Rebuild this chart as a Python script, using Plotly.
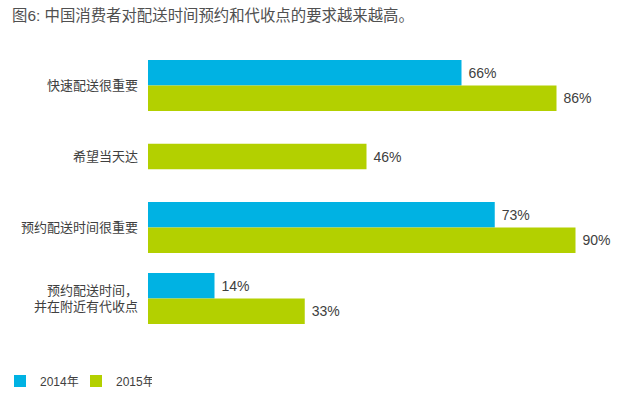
import plotly.graph_objects as go

categories = ["快速配送很重要", "希望当天达", "预约配送时间很重要", "预约配送时间，<br>并在附近有代收点"]
values_2014 = [66, None, 73, 14]
values_2015 = [86, 46, 90, 33]
series_names = ["2014年", "2015年"]

BLUE = "#00B2E3"
GREEN = "#B3D000"
FONT = "Liberation Sans, Arial, Noto Sans CJK SC, sans-serif"
W = 0.36

blue_offset = [-W for _ in categories]
green_offset = [(-W / 2 if v is None else 0) for v in values_2014]

fig = go.Figure()
fig.add_trace(go.Bar(
    y=categories, x=values_2014, orientation="h", name=series_names[0],
    marker=dict(color=BLUE, line=dict(width=0)), width=W, offset=blue_offset,
    texttemplate="\u00a0%{x}%", textposition="outside",
    textfont=dict(family=FONT, size=14, color="#404040"), cliponaxis=False,
))
fig.add_trace(go.Bar(
    y=categories, x=values_2015, orientation="h", name=series_names[1],
    marker=dict(color=GREEN, line=dict(width=0)), width=W, offset=green_offset,
    texttemplate="\u00a0%{x}%", textposition="outside",
    textfont=dict(family=FONT, size=14, color="#404040"), cliponaxis=False,
))

fig.update_layout(
    width=640, height=398,
    margin=dict(l=148, r=17, t=50, b=64, autoexpand=False),
    barmode="overlay",
    plot_bgcolor="white", paper_bgcolor="white",
    font=dict(family=FONT, color="#404040"),
    title=dict(text="图6: 中国消费者对配送时间预约和代收点的要求越来越高。",
               x=12 / 640, xanchor="left", xref="container",
               y=1 - 16 / 398, yanchor="middle", yref="container",
               font=dict(family=FONT, size=15.4, color="#505050")),
    xaxis=dict(range=[0, 100], visible=False, showgrid=False, zeroline=False),
    yaxis=dict(type="category", autorange="reversed", showgrid=False, zeroline=False,
               showline=False, ticks="", ticklabelstandoff=9, automargin=False,
               tickfont=dict(family=FONT, size=13, color="#404040")),
    showlegend=True,
    legend=dict(orientation="h", x=0, xanchor="left", xref="container",
                y=1 - 381 / 398, yanchor="middle", yref="container",
                font=dict(family=FONT, size=12, color="#404040"),
                itemwidth=30, entrywidth=31, entrywidthmode="pixels",
                traceorder="normal"),
)

fig.write_html("out.html", config={"displayModeBar": False},
               post_script="document.body.style.margin='0';")
